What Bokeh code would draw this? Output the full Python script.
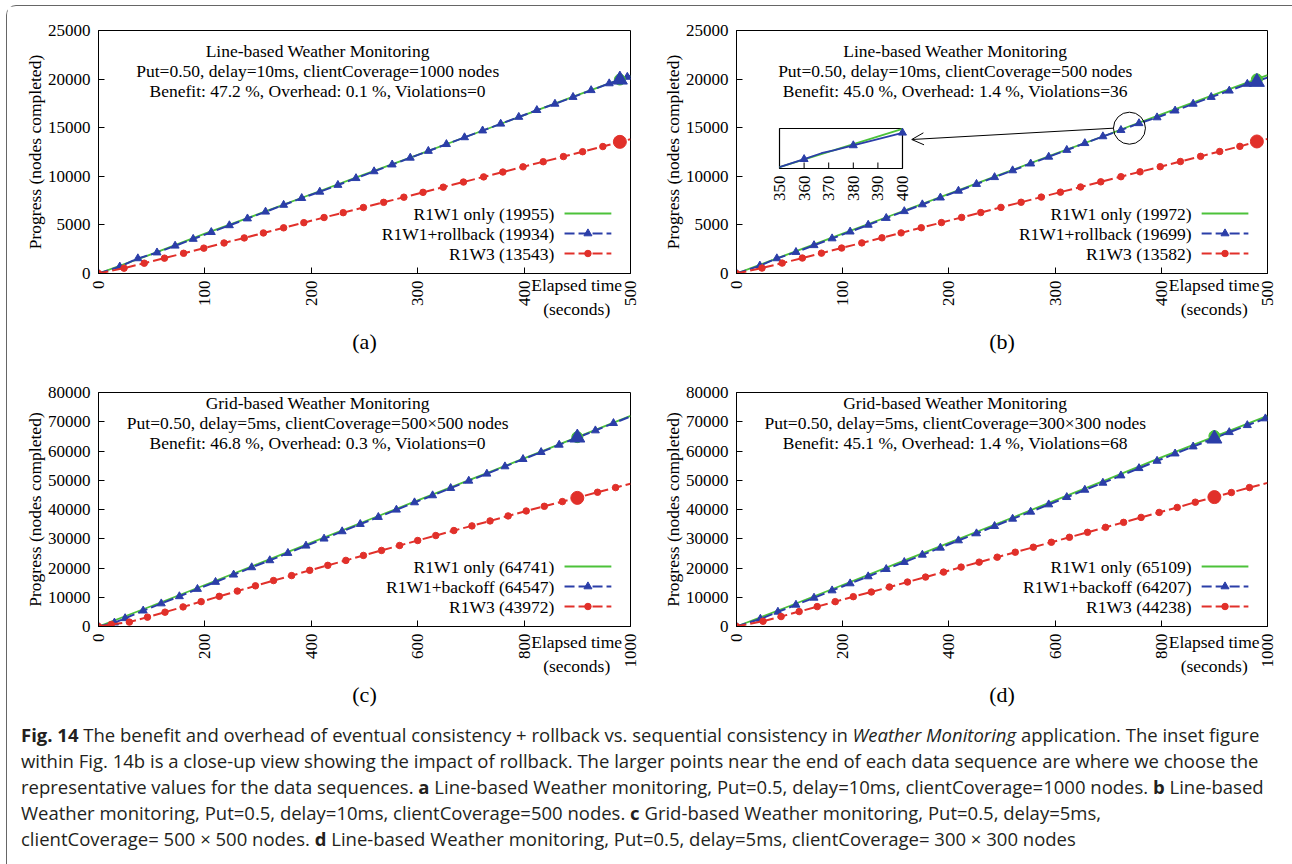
import math
from bokeh.plotting import figure
from bokeh.models import Range1d, FixedTicker, Title, Arrow, OpenHead, Div
from bokeh.layouts import column, row
from bokeh.core.properties import value
from bokeh.embed import file_html
from bokeh.resources import INLINE

# ------------------------------------------------------------------ data
line_x_ticks = [0, 100, 200, 300, 400, 500]
line_y_ticks = [0, 5000, 10000, 15000, 20000, 25000]
grid_x_ticks = [0, 200, 400, 600, 800, 1000]
grid_y_ticks = [0, 10000, 20000, 30000, 40000, 50000, 60000, 70000, 80000]
x_label_lines = ["Elapsed time", "(seconds)"]
y_label = "Progress (nodes completed)"

# (a) Line-based, 1000 nodes
a_title = ["Line-based Weather Monitoring",
           "Put=0.50, delay=10ms, clientCoverage=1000 nodes",
           "Benefit: 47.2 %, Overhead: 0.1 %, Violations=0"]
a_legend = ["R1W1 only (19955)", "R1W1+rollback (19934)", "R1W3 (13543)"]
a_green_t = [0, 50, 100, 150, 200, 250, 300, 350, 400, 450, 500]
a_green_v = [0, 2000, 4100, 6100, 8150, 10200, 12200, 14250, 16300, 18350, 20350]
a_blue_t = [0, 20, 37, 55, 72, 89, 106, 123, 140, 157, 174, 191, 208, 225, 242, 259, 276,
            293, 310, 327, 344, 361, 378, 395, 412, 429, 446, 463, 480, 497, 500]
a_blue_v = [0, 700, 1550, 2150, 2850, 3550, 4250, 4950, 5650, 6350, 7050, 7750, 8400, 9100,
            9800, 10500, 11200, 11900, 12600, 13300, 14000, 14700, 15400, 16100, 16800,
            17450, 18150, 18850, 19550, 20220, 20340]
a_red_t = [0, 24, 43, 62, 80, 99, 118, 137, 155, 174, 193, 212, 230, 249, 268, 287, 305,
           324, 343, 362, 380, 399, 418, 437, 455, 474, 500]
a_red_v = [0, 550, 1060, 1580, 2080, 2610, 3140, 3660, 4170, 4700, 5230, 5760, 6260, 6790,
           7320, 7850, 8350, 8880, 9410, 9940, 10440, 10970, 11500, 12030, 12530, 13060, 13820]
a_rep_t = 490
a_rep_v = [19955, 19934, 13543]

# (b) Line-based, 500 nodes
b_title = ["Line-based Weather Monitoring",
           "Put=0.50, delay=10ms, clientCoverage=500 nodes",
           "Benefit: 45.0 %, Overhead: 1.4 %, Violations=36"]
b_legend = ["R1W1 only (19972)", "R1W1+rollback (19699)", "R1W3 (13582)"]
b_green_t = [0, 50, 100, 150, 200, 250, 300, 350, 370, 400, 450, 500]
b_green_v = [0, 2050, 4100, 6150, 8200, 10250, 12300, 14300, 15150, 16380, 18400, 20400]
b_blue_t = [0, 22, 38, 56, 73, 90, 107, 124, 141, 158, 175, 192, 209, 226, 243, 260, 277,
            294, 311, 328, 345, 362, 379, 396, 413, 430, 447, 464, 481, 500]
b_blue_v = [0, 800, 1550, 2200, 2900, 3600, 4300, 5000, 5700, 6400, 7100, 7800, 8500, 9200,
            9900, 10600, 11300, 12000, 12700, 13400, 14100, 14750, 15450, 16050, 16750,
            17450, 18150, 18800, 19500, 20150]
b_red_t = [0, 24, 43, 62, 80, 99, 118, 137, 155, 174, 193, 212, 230, 249, 268, 287, 305,
           324, 343, 362, 380, 399, 418, 437, 455, 474, 500]
b_red_v = [0, 560, 1070, 1590, 2090, 2620, 3150, 3670, 4180, 4710, 5240, 5770, 6270, 6800,
           7330, 7860, 8370, 8900, 9430, 9960, 10460, 10990, 11520, 12050, 12550, 13080, 13850]
b_rep_t = 490
b_rep_v = [19972, 19699, 13582]
# close-up inset of (b)
inset_x_range = [350, 400]
inset_y_range = [14250, 16400]
inset_x_ticks = [350, 360, 370, 380, 390, 400]
inset_green_t = [350, 400]
inset_green_v = [14320, 16380]
inset_blue_t = [350, 360, 367, 372, 380, 400]
inset_blue_v = [14320, 14750, 15070, 15220, 15490, 16170]
inset_mark_t = [360, 380, 400]
inset_mark_v = [14750, 15490, 16170]

# (c) Grid-based, 500x500
c_title = ["Grid-based Weather Monitoring",
           "Put=0.50, delay=5ms, clientCoverage=500\u00d7500 nodes",
           "Benefit: 46.8 %, Overhead: 0.3 %, Violations=0"]
c_legend = ["R1W1 only (64741)", "R1W1+backoff (64547)", "R1W3 (43972)"]
c_green_t = [0, 100, 200, 300, 400, 500, 600, 700, 800, 1000]
c_green_v = [0, 7000, 14200, 21400, 28700, 35900, 43100, 50300, 57500, 72000]
c_blue_t = [0, 30, 50, 84, 118, 152, 186, 220, 254, 288, 322, 356, 390, 424, 458, 492, 526,
            560, 594, 628, 662, 696, 730, 764, 798, 832, 866, 934, 968, 1000]
c_blue_v = [0, 1300, 2800, 5400, 7850, 10300, 12800, 15200, 17700, 20200, 22600, 25100,
            27600, 30000, 32500, 35000, 37400, 39900, 42400, 44800, 47300, 49800, 52200,
            54700, 57200, 59600, 62100, 67000, 69500, 71800]
c_red_t = [0, 24, 58, 92, 125, 159, 193, 227, 261, 295, 329, 363, 397, 431, 465, 498, 532,
           566, 600, 634, 668, 702, 736, 770, 804, 838, 872, 938, 972, 1000]
c_red_v = [0, 700, 1500, 3200, 4900, 6700, 8500, 10300, 12100, 13900, 15700, 17400, 19200,
           20900, 22600, 24300, 26000, 27700, 29400, 31100, 32800, 34400, 36100, 37800,
           39500, 41100, 42700, 45900, 47500, 48800]
c_rep_t = 900
c_rep_v = [64741, 64547, 43972]

# (d) Grid-based, 300x300
d_title = ["Grid-based Weather Monitoring",
           "Put=0.50, delay=5ms, clientCoverage=300\u00d7300 nodes",
           "Benefit: 45.1 %, Overhead: 1.4 %, Violations=68"]
d_legend = ["R1W1 only (65109)", "R1W1+backoff (64207)", "R1W3 (44238)"]
d_green_t = [0, 100, 200, 300, 400, 500, 600, 700, 800, 1000]
d_green_v = [0, 7000, 14200, 21400, 28600, 35800, 43100, 50400, 57800, 72000]
d_blue_t = [0, 45, 78, 112, 146, 180, 214, 248, 282, 316, 350, 384, 418, 452, 486, 520, 554,
            588, 622, 656, 690, 724, 758, 792, 826, 860, 928, 962, 996, 1000]
d_blue_v = [0, 2600, 5000, 7400, 9800, 12300, 14700, 17100, 19600, 22000, 24500, 26900,
            29400, 31800, 34300, 36800, 39200, 41700, 44200, 46700, 49100, 51600, 54100,
            56600, 59100, 61500, 66400, 68800, 71100, 71350]
d_red_t = [0, 50, 84, 118, 152, 186, 220, 254, 288, 322, 356, 390, 423, 457, 491, 525, 559,
           593, 627, 661, 695, 729, 762, 796, 830, 864, 932, 966, 1000]
d_red_v = [0, 1800, 3400, 5100, 6800, 8500, 10200, 11800, 13500, 15200, 16900, 18600, 20300,
           22000, 23700, 25400, 27100, 28800, 30500, 32200, 33900, 35600, 37300, 39000,
           40700, 42500, 45800, 47500, 49100]
d_rep_t = 900
d_rep_v = [65109, 64207, 44238]

caption_html = (
    "<b>Fig. 14</b> The benefit and overhead of eventual consistency + rollback vs. sequential "
    "consistency in <i>Weather Monitoring</i> application. The inset figure<br>"
    "within Fig. 14b is a close-up view showing the impact of rollback. The larger points near "
    "the end of each data sequence are where we choose the<br>"
    "representative values for the data sequences. <b>a</b> Line-based Weather monitoring, "
    "Put=0.5, delay=10ms, clientCoverage=1000 nodes. <b>b</b> Line-based<br>"
    "Weather monitoring, Put=0.5, delay=10ms, clientCoverage=500 nodes. <b>c</b> Grid-based "
    "Weather monitoring, Put=0.5, delay=5ms,<br>"
    "clientCoverage= 500 \u00d7 500 nodes. <b>d</b> Line-based Weather monitoring, Put=0.5, "
    "delay=5ms, clientCoverage= 300 \u00d7 300 nodes"
)

# ------------------------------------------------------------------ style
GREEN = "#4cc23a"
BLUE = "#2b3ea8"
RED = "#e1302a"
SERIF = "Liberation Serif"
DASH = "10 4"
# the axis label is centred on the frame; leading no-break spaces push each line
# to the right end of the axis, as gnuplot places it
XLABEL_PAD = "\u00a0" * 97


def build(width, height, borders, xmax, ymax, xticks, yticks,
          green_t, green_v, blue_t, blue_v, red_t, red_v, rep_t, rep_v,
          title, legend, tag, title_top, elapsed_standoff, tag_standoff):
    ml, mr, mt, mb = borders
    fh = height - mt - mb
    p = figure(width=width, height=height, x_range=Range1d(0, xmax), y_range=Range1d(0, ymax),
               output_backend="svg", toolbar_location=None,
               min_border_left=ml, min_border_right=mr, min_border_top=mt, min_border_bottom=mb)
    p.grid.visible = False
    p.outline_line_color = "black"
    p.outline_line_width = 1
    p.background_fill_color = "white"
    p.border_fill_color = "white"
    for ax in (p.xaxis[0], p.yaxis[0]):
        ax.major_tick_in = 6
        ax.major_tick_out = 0
        ax.minor_tick_line_color = None
        ax.axis_line_color = "black"
        ax.major_tick_line_color = "black"
        ax.major_label_text_font = SERIF
        ax.major_label_text_font_size = "17px"
        ax.major_label_text_color = "black"
    p.xaxis.ticker = FixedTicker(ticks=xticks)
    p.yaxis.ticker = FixedTicker(ticks=yticks)
    p.xaxis.major_label_orientation = math.pi / 2
    p.xaxis.major_label_standoff = 7
    p.yaxis.major_label_standoff = 8
    p.yaxis.axis_label = y_label
    p.yaxis.axis_label_standoff = 0
    p.xaxis.axis_label = "\n".join(XLABEL_PAD + s for s in x_label_lines)
    p.xaxis.axis_label_standoff = elapsed_standoff
    for ax in (p.xaxis[0], p.yaxis[0]):
        ax.axis_label_text_font = SERIF
        ax.axis_label_text_font_size = "17.5px"
        ax.axis_label_text_font_style = "normal"
        ax.axis_label_text_color = "black"

    # series
    p.line(green_t, green_v, color=GREEN, line_width=1.8)
    p.line(blue_t, blue_v, color=BLUE, line_width=2, line_dash=DASH)
    p.scatter(blue_t[:-1], blue_v[:-1], marker="triangle", size=8, color=BLUE)
    p.line(red_t, red_v, color=RED, line_width=2, line_dash=DASH)
    p.scatter(red_t[:-1], red_v[:-1], marker="circle", size=6.5, color=RED)
    # representative (larger) points
    p.scatter([rep_t], [rep_v[0]], marker="circle", size=11, color=GREEN)
    p.scatter([rep_t], [rep_v[1]], marker="triangle", size=15, color=BLUE)
    p.scatter([rep_t], [rep_v[2]], marker="circle", size=13, color=RED)

    # in-plot title
    ty = [ymax - (title_top + 20 * i) / fh * ymax for i in range(3)]
    p.text(x=[0.412 * xmax] * 3, y=ty, text=title, text_align="center", text_baseline="middle",
           text_font=value(SERIF), text_font_size="17.5px", text_color="black")

    # gnuplot-style key (label left, sample right)
    ly = [px / fh * ymax for px in (60, 40, 20)]
    lx0, lx1, lxm, ltx = 0.876 * xmax, 0.964 * xmax, 0.92 * xmax, 0.857 * xmax
    p.text(x=[ltx] * 3, y=ly, text=legend, text_align="right", text_baseline="middle",
           text_font=value(SERIF), text_font_size="17.5px", text_color="black")
    p.segment(x0=[lx0], y0=[ly[0]], x1=[lx1], y1=[ly[0]], color=GREEN, line_width=1.8)
    p.segment(x0=[lx0], y0=[ly[1]], x1=[lx1], y1=[ly[1]], color=BLUE, line_width=2, line_dash=DASH)
    p.scatter([lxm], [ly[1]], marker="triangle", size=8, color=BLUE)
    p.segment(x0=[lx0], y0=[ly[2]], x1=[lx1], y1=[ly[2]], color=RED, line_width=2, line_dash=DASH)
    p.scatter([lxm], [ly[2]], marker="circle", size=6.5, color=RED)

    # sub-figure tag below the axis
    p.add_layout(Title(text=tag, align="center", offset=-39, standoff=tag_standoff,
                       text_font=SERIF, text_font_size="22px", text_font_style="normal",
                       text_color="black"), "below")
    return p


pa = build(641, 354, (91, 18, 24, 87), 500, 25000, line_x_ticks, line_y_ticks,
           a_green_t, a_green_v, a_blue_t, a_blue_v, a_red_t, a_red_v, a_rep_t, a_rep_v,
           a_title, a_legend, "(a)", 20, -34, 9)
pb = build(642, 354, (88, 23, 24, 87), 500, 25000, line_x_ticks, line_y_ticks,
           b_green_t, b_green_v, b_blue_t, b_blue_v, b_red_t, b_red_v, b_rep_t, b_rep_v,
           b_title, b_legend, "(b)", 20, -34, 9)
pc = build(641, 352, (91, 18, 32, 86), 1000, 80000, grid_x_ticks, grid_y_ticks,
           c_green_t, c_green_v, c_blue_t, c_blue_v, c_red_t, c_red_v, c_rep_t, c_rep_v,
           c_title, c_legend, "(c)", 10, -39, 3)
pd = build(642, 352, (88, 23, 32, 86), 1000, 80000, grid_x_ticks, grid_y_ticks,
           d_green_t, d_green_v, d_blue_t, d_blue_v, d_red_t, d_red_v, d_rep_t, d_rep_v,
           d_title, d_legend, "(d)", 10, -39, 3)

# ---- inset of (b): extra ranges map the inset box onto a region of the main frame
box_x = (40.5, 156.3)      # main-axis seconds covered by the inset box
box_y = (10802, 14918)     # main-axis progress covered by the inset box
sx = (inset_x_range[1] - inset_x_range[0]) / (box_x[1] - box_x[0])
sy = (inset_y_range[1] - inset_y_range[0]) / (box_y[1] - box_y[0])
ix0 = inset_x_range[0] - box_x[0] * sx
iy0 = inset_y_range[0] - box_y[0] * sy
pb.extra_x_ranges = {"inset": Range1d(ix0, ix0 + 500 * sx)}
pb.extra_y_ranges = {"inset": Range1d(iy0, iy0 + 25000 * sy)}
kw = dict(x_range_name="inset", y_range_name="inset")
pb.quad(left=[inset_x_range[0]], right=[inset_x_range[1]], bottom=[inset_y_range[0]],
        top=[inset_y_range[1]], fill_color="white", line_color="black", line_width=1.2, **kw)
tick_len = 6 / 40 * (inset_y_range[1] - inset_y_range[0])
lab_off = 7 / 40 * (inset_y_range[1] - inset_y_range[0])
pb.segment(x0=inset_x_ticks[1:-1], y0=[inset_y_range[0]] * 4, x1=inset_x_ticks[1:-1],
           y1=[inset_y_range[0] + tick_len] * 4, color="black", line_width=1, **kw)
pb.text(x=inset_x_ticks, y=[inset_y_range[0] - lab_off] * len(inset_x_ticks),
        text=[str(t) for t in inset_x_ticks], angle=math.pi / 2, text_align="right",
        text_baseline="middle", text_font=value(SERIF), text_font_size="17px",
        text_color="black", **kw)
pb.line(inset_green_t, inset_green_v, color=GREEN, line_width=1.8, **kw)
pb.line(inset_blue_t, inset_blue_v, color=BLUE, line_width=1.8, **kw)
pb.scatter(inset_mark_t, inset_mark_v, marker="triangle", size=8, color=BLUE, **kw)
# highlight circle and arrow pointing to the inset
pb.scatter([370], [14949], marker="circle", size=32, fill_color=None, line_color="black",
           line_width=1)
pb.add_layout(Arrow(end=OpenHead(size=12, line_width=1, line_color="black"),
                    x_start=355, y_start=14949, x_end=165, y_end=13786,
                    line_color="black", line_width=1))

cap = Div(text=('<div style="font-family:\'Open Sans\',sans-serif;'
                'font-size:18.5px;line-height:26px;color:#231f20;white-space:nowrap;'
                'padding:5px 0 0 9px;">' + caption_html + '</div>'),
          width=1283, height=146)

layout = column(row(pa, pb), row(pc, pd), cap,
                styles={"margin": "5px 0 0 6px", "border": "1px solid #666",
                        "border-bottom": "none", "border-radius": "10px 10px 0 0"})

open("out.html", "w").write(file_html(layout, INLINE))
